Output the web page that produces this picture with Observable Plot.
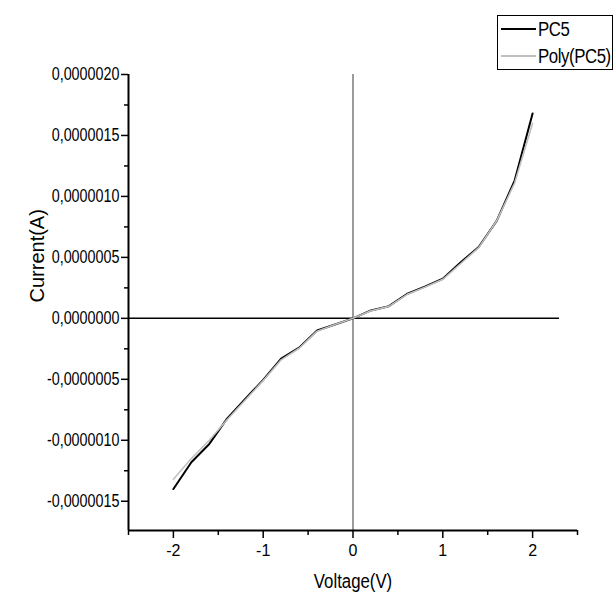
<!DOCTYPE html>
<html>
<head>
<meta charset="utf-8">
<script src="https://cdn.jsdelivr.net/npm/d3@7"></script>
<script src="https://cdn.jsdelivr.net/npm/@observablehq/plot@0.6"></script>
<style>
  html, body { margin: 0; padding: 0; background: #fff; }
  #wrap { position: relative; width: 614px; height: 597px; }
  #legend {
    position: absolute; left: 497px; top: 15px; width: 114px; height: 53px;
    border: 1px solid #000; background: #fff; box-sizing: content-box;
    font-family: "Liberation Sans", Arial, sans-serif;
  }
  #legend .row { position: absolute; left: 0; height: 26px; display: flex; align-items: center; }
  #legend .sw { width: 35px; height: 0; margin-left: 3px; margin-right: 2px; }
  #legend .lab { display: inline-block; font-size: 20px; color: #000; white-space: nowrap;
                 transform: scaleX(0.84); transform-origin: left center; letter-spacing: -0.5px; }
</style>
</head>
<body>
<div id="wrap"></div>
<script>
// ---- data (Current in A) ----
const voltage = [-2, -1.8, -1.6, -1.4, -1.2, -1.0, -0.8, -0.6, -0.4, -0.2, 0, 0.2, 0.4, 0.6, 0.8, 1.0, 1.2, 1.4, 1.6, 1.8, 2.0];
const pc5 = [-1.40e-6, -1.18e-6, -1.03e-6, -0.82e-6, -0.66e-6, -0.505e-6, -0.33e-6, -0.24e-6, -0.10e-6, -0.05e-6, 0,
             0.065e-6, 0.10e-6, 0.20e-6, 0.26e-6, 0.325e-6, 0.46e-6, 0.585e-6, 0.80e-6, 1.13e-6, 1.68e-6];
const polyPc5 = [-1.32e-6, -1.15e-6, -1.00e-6, -0.83e-6, -0.67e-6, -0.51e-6, -0.34e-6, -0.245e-6, -0.105e-6, -0.05e-6, 0,
             0.062e-6, 0.098e-6, 0.195e-6, 0.255e-6, 0.32e-6, 0.45e-6, 0.58e-6, 0.80e-6, 1.11e-6, 1.60e-6];
const seriesNames = ["PC5", "Poly(PC5)"];
const seriesColors = ["#000000", "#c0c0c0"];
const xMajor = [-2, -1, 0, 1, 2];
const xMinor = [-2.5, -1.5, -0.5, 0.5, 1.5, 2.5];
const yMajor = [-1.5e-6, -1.0e-6, -0.5e-6, 0, 0.5e-6, 1.0e-6, 1.5e-6, 2.0e-6];
const yMinor = [-1.25e-6, -0.75e-6, -0.25e-6, 0.25e-6, 0.75e-6, 1.25e-6, 1.75e-6];
const xDomain = [-2.5, 2.5];
const yDomain = [-1.74e-6, 2.0e-6];
const xLabel = "Voltage(V)";
const yLabel = "Current(A)";

const rows = voltage.map((v, i) => ({v, pc5: pc5[i], poly: polyPc5[i]}));
const yFmt = d => d3.format(".7f")(d).replace(".", ",").replace("\u2212", "-");
const regular = "'Liberation Sans', Arial, sans-serif";

const chart = Plot.plot({
  width: 614,
  height: 597,
  marginLeft: 128,
  marginRight: 37,
  marginTop: 74,
  marginBottom: 67,
  x: {domain: xDomain},
  y: {domain: yDomain},
  style: {fontFamily: regular, background: "#fff", color: "#000"},
  marks: [
    Plot.ruleX([0], {stroke: "#7a7a7a", strokeWidth: 1.5}),
    Plot.ruleY([0], {x1: xDomain[0], x2: 2.3, stroke: "#000", strokeWidth: 1.5}),
    Plot.line(rows, {x: "v", y: "pc5", stroke: seriesColors[0], strokeWidth: 2}),
    Plot.line(rows, {x: "v", y: "poly", stroke: seriesColors[1], strokeWidth: 1.6}),
    Plot.ruleX([xDomain[0]], {y1: yDomain[0], y2: yDomain[1], stroke: "#000", strokeWidth: 2}),
    Plot.ruleY([yDomain[0]], {x1: xDomain[0], x2: xDomain[1], stroke: "#000", strokeWidth: 2}),
    Plot.axisY({ticks: yMajor, tickSize: 7, tickPadding: 2, tickFormat: yFmt, label: null,
                fontSize: 17.5, strokeWidth: 1.5}),
    Plot.axisY({ticks: yMinor, tickSize: 4, tickFormat: () => "", label: null, strokeWidth: 1.5}),
    Plot.axisX({ticks: xMajor, tickSize: 8, tickPadding: 6, tickFormat: d => String(d).replace("\u2212", "-"),
                label: null, fontSize: 16, strokeWidth: 1.5}),
    Plot.axisX({ticks: xMinor, tickSize: 5, tickFormat: () => "", label: null, strokeWidth: 1.5}),
    Plot.text([xLabel], {frameAnchor: "bottom", dy: 57, fontSize: 21}),
    Plot.text([yLabel], {frameAnchor: "left", dx: -91, rotate: -90, fontSize: 20})
  ]
});

const wrap = document.getElementById("wrap");
wrap.appendChild(chart);

// condense Origin-style narrow texts by a horizontal scale about each text's anchor
function squeeze(t, f) {
  let x = parseFloat(t.getAttribute("x"));
  if (!isFinite(x)) x = 0;
  const tr = t.getAttribute("transform") || "";
  t.setAttribute("transform", `${tr} translate(${x},0) scale(${f},1) translate(${-x},0)`.trim());
}
const yLabelSet = new Set(yMajor.map(yFmt));
chart.querySelectorAll("text").forEach(t => {
  const s = t.textContent;
  if (yLabelSet.has(s)) squeeze(t, 0.82);
  else if (s === xLabel) squeeze(t, 0.8);
});

// legend overlay
const legend = document.createElement("div");
legend.id = "legend";
seriesNames.forEach((name, i) => {
  const row = document.createElement("div");
  row.className = "row";
  row.style.top = (i * 27) + "px";
  const sw = document.createElement("div");
  sw.className = "sw";
  sw.style.borderTop = "2px solid " + seriesColors[i];
  const lab = document.createElement("span");
  lab.className = "lab";
  lab.textContent = name;
  row.appendChild(sw);
  row.appendChild(lab);
  legend.appendChild(row);
});
wrap.appendChild(legend);
</script>
</body>
</html>
